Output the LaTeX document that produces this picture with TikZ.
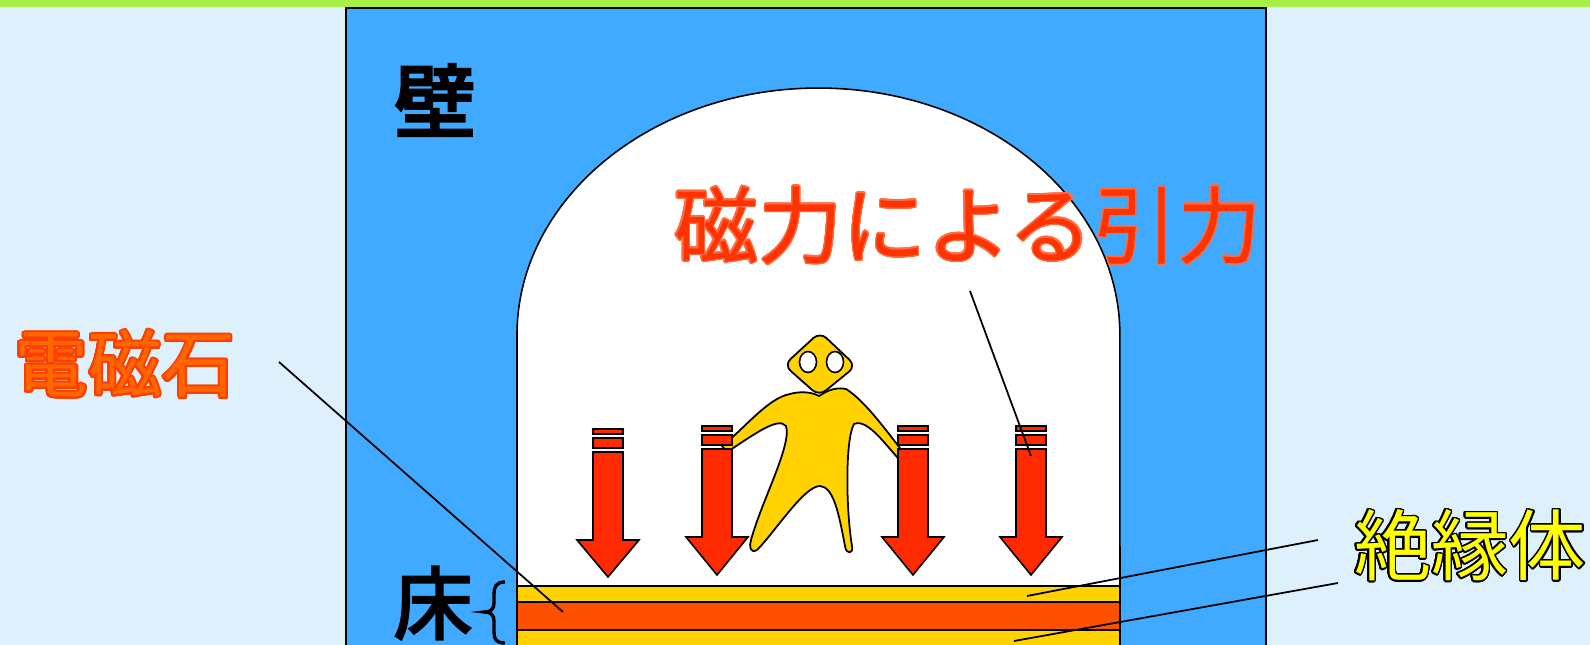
\documentclass[tikz,border=0pt]{standalone}
\usepackage{fontspec}
\usepackage{contour}
\newfontfamily\jp{Noto Sans CJK JP}
\newfontfamily\jpheavy[FakeBold=4]{Noto Sans CJK JP}
\newfontfamily\jpbold[FakeBold=3]{Noto Sans CJK JP}
\definecolor{paleblue}{HTML}{DDF0FC}
\definecolor{limebar}{HTML}{A8F045}
\definecolor{wallblue}{HTML}{3FAAFF}
\definecolor{arrowred}{HTML}{FF2A00}
\definecolor{coilorange}{HTML}{FF5000}
\definecolor{gold}{HTML}{FFD200}
\definecolor{forcered}{HTML}{FF3300}
\definecolor{forceedge}{HTML}{FF6A40}
\definecolor{magnetfill}{HTML}{FF6600}
\definecolor{magnetedge}{HTML}{FF3D00}
\definecolor{insulyellow}{HTML}{FFFF00}
\contourlength{1.1pt}
\contournumber{24}
\tikzset{
  outline/.style={draw=black, line width=0.9pt},
  layer/.style={outline},
  pointer/.style={draw=black, line width=1pt},
  label/.style={inner sep=0pt, anchor=center},
  forcearrow/.style={fill=arrowred, draw=black, line width=0.9pt, line join=miter},
}
% a downward force arrow: centre x, stripe top, shaft top, head base, tip
\newcommand\forcearrowat[5]{%
  \path[forcearrow] (#1-15,#2) rectangle (#1+15,#2+5);
  \path[forcearrow] (#1-15,#2+9) rectangle (#1+15,#2+19);
  \path[forcearrow] (#1-15,#3) -- (#1+15,#3) -- (#1+15,#4) -- (#1+31,#4)
     -- (#1,#5) -- (#1-31,#4) -- (#1-15,#4) -- cycle;
}
\begin{document}
\begin{tikzpicture}[x=0.02cm,y=-0.02cm]
\useasboundingbox (0,0) rectangle (1590,645);
\clip (0,0) rectangle (1590,645);
% background and top band
\fill[paleblue] (0,0) rectangle (1590,645);
\fill[limebar] (0,0) rectangle (1590,7);
% wall with arched opening
\path[fill=wallblue, outline] (346,8) rectangle (1266,700);
\path[fill=white, outline] (517,700) -- (517,335)
   arc[start angle=180, end angle=0, x radius=6.03cm, y radius=4.94cm]
   -- (1120,700) -- cycle;
% floor layers
\path[fill=gold, layer] (517,586) rectangle (1120,602);
\path[fill=coilorange, layer] (517,602) rectangle (1120,630);
\path[fill=gold, layer] (517,630) rectangle (1120,700);
% figure: body
\path[fill=gold, draw=black, line width=1pt, line join=round]
  (819,396) .. controls (828,390) and (836,387) .. (846,389)
  .. controls (864,400) and (886,430) .. (906,456)
  -- (906,467)
  .. controls (886,446) and (868,418) .. (854,424)
  .. controls (845,440) and (846,510) .. (852,546)
  .. controls (854,554) and (846,555) .. (845,546)
  .. controls (839,515) and (834,487) .. (820,486)
  .. controls (804,486) and (775,532) .. (757,550)
  .. controls (750,554) and (749,546) .. (751,540)
  .. controls (762,500) and (792,445) .. (786,426)
  .. controls (778,416) and (752,436) .. (727,452)
  -- (722,446)
  .. controls (745,428) and (768,398) .. (790,394)
  .. controls (800,391) and (812,392) .. (819,396) -- cycle;
% figure: head and eyes
\path[fill=gold, draw=black, line width=1pt, rounded corners=5pt]
  (820,332) -- (856,366) -- (819,396) -- (784,365) -- cycle;
\path[fill=white, draw=black, line width=0.9pt] (808,362) ellipse [x radius=0.17cm, y radius=0.21cm];
\path[fill=white, draw=black, line width=0.9pt] (835,362) ellipse [x radius=0.17cm, y radius=0.21cm];
% magnetic pull arrows
\forcearrowat{608}{429}{452}{540}{577}
\forcearrowat{717}{426}{449}{537}{575}
\forcearrowat{913}{426}{449}{537}{575}
\forcearrowat{1031}{426}{449}{537}{575}
% labels
\node[label] (wall) at (435,100) {\jpheavy\fontsize{46pt}{50pt}\selectfont 壁};
\node[label] (floor) at (433,603) {\jpbold\fontsize{45pt}{50pt}\selectfont 床};
\path[draw=black, line width=1.9pt]
  (505,582) .. controls (496,582) and (494,587) .. (494,594) -- (494,603)
  .. controls (494,609) and (491,612) .. (484,612)
  .. controls (491,612) and (494,615) .. (494,621) -- (494,632)
  .. controls (494,639) and (496,643) .. (505,643);
\node[label] (magnet) at (125,365)
  {\jp\fontsize{42pt}{46pt}\selectfont\contour{magnetedge}{\textcolor{magnetfill}{電磁石}}};
\node[label] (force) at (968,226)
  {\jp\fontsize{48pt}{52pt}\selectfont\contourlength{0.7pt}\contour{forceedge}{\textcolor{forcered}{磁力による引力}}};
\node[label] (insul) at (1470,546)
  {\jp\fontsize{44pt}{48pt}\selectfont\contourlength{0.9pt}\contour{black}{\textcolor{insulyellow}{絶縁体}}};
% leader lines
\coordinate (magnetfrom) at (279,362);
\coordinate (magnetto) at (563,612);
\coordinate (forcefrom) at (970,291);
\coordinate (forceto) at (1031,456);
\coordinate (insulfromA) at (1318,540);
\coordinate (insultoA) at (1027,596);
\coordinate (insulfromB) at (1338,583);
\coordinate (insultoB) at (1014,641);
\draw[pointer] (magnetfrom) -- (magnetto);
\draw[pointer] (forcefrom) -- (forceto);
\draw[pointer] (insulfromA) -- (insultoA);
\draw[pointer] (insulfromB) -- (insultoB);
\end{tikzpicture}
\end{document}
